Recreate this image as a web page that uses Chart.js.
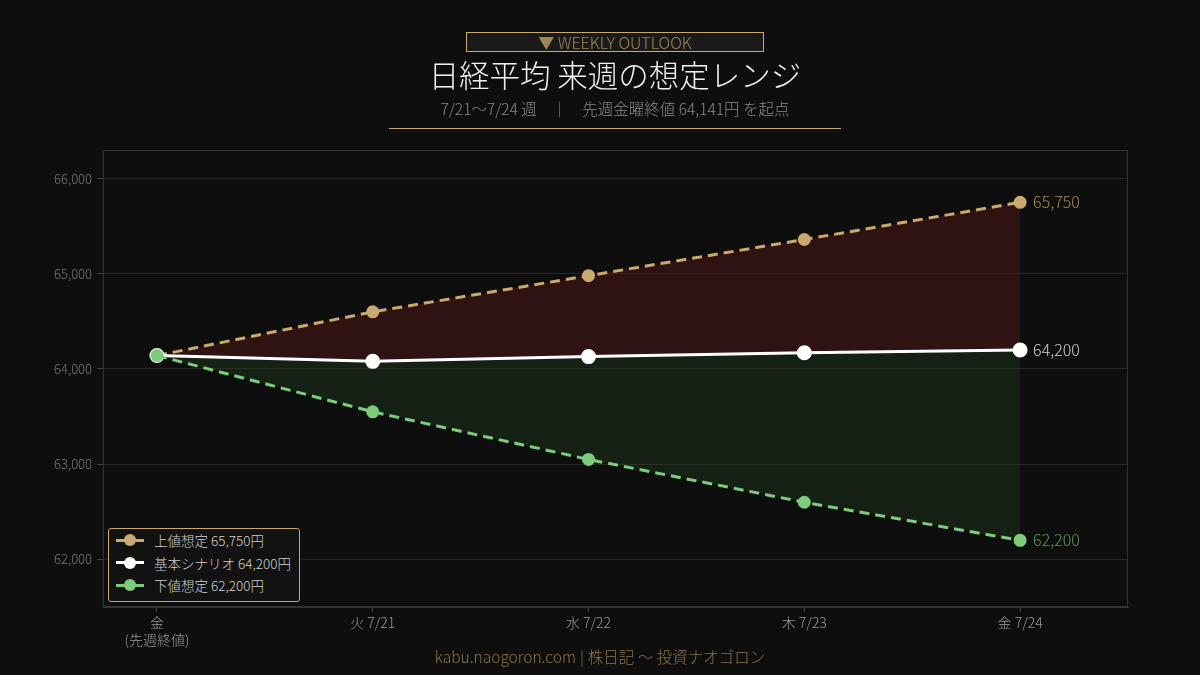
<!DOCTYPE html>
<html><head><meta charset="utf-8">
<script src="https://cdn.jsdelivr.net/npm/chart.js@4/dist/chart.umd.min.js"></script>
<style>
html,body{margin:0;padding:0;background:#0e0e0e;width:1200px;height:675px;overflow:hidden;font-family:"Noto Sans CJK JP Light","Noto Sans CJK JP","Noto Sans",sans-serif;}
#wrap{position:relative;width:1200px;height:675px;}
canvas{position:absolute;left:0;top:0;}
.badge{position:absolute;left:466px;top:32px;width:296px;height:18px;border:1px solid #c9a96e;background:#1a1a1a;color:#a08656;font-size:16px;line-height:18px;text-align:center;font-weight:300;}
.title{position:absolute;left:15px;width:1200px;top:54px;text-align:center;color:#f0f0f0;font-size:30.5px;font-weight:300;line-height:40px;}
.sub{position:absolute;left:15px;width:1200px;top:97px;text-align:center;color:#8a8a8a;font-size:15.5px;font-weight:300;line-height:22px;}
.sub .sep{margin:0 15px;}
.rule{position:absolute;left:389px;top:128px;width:452px;height:1px;background:#c9a96e;}
.foot{position:absolute;left:0;width:1200px;top:645px;text-align:center;color:#8a7446;font-size:15.5px;font-weight:300;line-height:22px;}
.foot .sep{margin:0 4px;}
.legend{position:absolute;left:108px;top:528px;width:192px;height:74px;border:1px solid #c9a96e;border-radius:3px;background:#121212;box-sizing:border-box;padding-top:0px;}
.li{height:22.5px;display:flex;align-items:center;color:#d0d0d0;font-size:13.5px;font-weight:300;}
.sw{position:relative;width:28px;height:3px;margin-left:7px;margin-right:10px;}
.sw i{position:absolute;left:8px;top:-4.5px;width:12px;height:12px;border-radius:50%;}
</style></head>
<body><div id="wrap">
<canvas id="c" width="1200" height="675"></canvas>
<div class="badge">▼ WEEKLY OUTLOOK</div>
<div class="title">日経平均 来週の想定レンジ</div>
<div class="sub">7/21〜7/24 週<span class="sep">｜</span>先週金曜終値 64,141円 を起点</div>
<div class="rule"></div>
<div class="legend" id="legend"></div>
<div class="foot">kabu.naogoron.com<span class="sep">|</span>株日記 〜 投資ナオゴロン</div>
</div>
<script>
const categories = [["金","(先週終値)"], "火 7/21", "水 7/22", "木 7/23", "金 7/24"];
const upperValues = [64141, 64600, 64980, 65360, 65750];
const baseValues  = [64141, 64080, 64130, 64170, 64200];
const lowerValues = [64141, 63550, 63050, 62600, 62200];
const seriesNames = ["上値想定 65,750円", "基本シナリオ 64,200円", "下値想定 62,200円"];
const endLabels = ["65,750", "64,200", "62,200"];
const yTicks = [62000, 63000, 64000, 65000, 66000];

const GOLD = "#c9a96e", WHITE = "#ffffff", GREEN = "#7ccc7c";
const endColors = ["#a88a55", "#d0d0d0", "#5f9a5f"];
const toPts = arr => arr.map((v, i) => ({x: i, y: v}));

const legend = document.getElementById('legend');
[GOLD, WHITE, GREEN].forEach((c, i) => {
  const d = document.createElement('div'); d.className = 'li';
  d.innerHTML = `<span class="sw" style="background:${c}"><i style="background:${c}"></i></span>${seriesNames[i]}`;
  legend.appendChild(d);
});

const framePlugin = {
  id: 'frame',
  afterDraw(chart) {
    const {ctx, chartArea: a} = chart;
    ctx.save();
    ctx.strokeStyle = '#333'; ctx.lineWidth = 1;
    ctx.strokeRect(a.left + 0.5, a.top + 0.5, a.right - a.left - 1, a.bottom - a.top - 1);
    ctx.font = '300 16px "Noto Sans CJK JP Light", "Noto Sans CJK JP"';
    ctx.textBaseline = 'middle'; ctx.textAlign = 'left';
    chart.data.datasets.forEach((ds, i) => {
      const meta = chart.getDatasetMeta(i);
      const p = meta.data[meta.data.length - 1];
      ctx.fillStyle = endColors[i];
      ctx.fillText(endLabels[i], p.x + 13, p.y);
    });
    ctx.restore();
  }
};

const tickFont = fs => ({size: fs, family: '"Noto Sans CJK JP Light", "Noto Sans CJK JP"', weight: 300});

new Chart(document.getElementById('c'), {
  type: 'line',
  data: {
    datasets: [
      {label: seriesNames[0], data: toPts(upperValues), borderColor: GOLD, backgroundColor: 'rgba(110,25,25,0.35)', order: 2,
       pointBackgroundColor: GOLD, pointBorderColor: GOLD, borderDash: [10, 6], borderWidth: 3, pointRadius: 5, fill: '+1', tension: 0},
      {label: seriesNames[1], data: toPts(baseValues), borderColor: WHITE, backgroundColor: WHITE, order: 1,
       pointBackgroundColor: WHITE, pointBorderColor: WHITE, borderWidth: 3, pointRadius: 6, fill: false, tension: 0},
      {label: seriesNames[2], data: toPts(lowerValues), borderColor: GREEN, backgroundColor: 'rgba(40,80,40,0.3)', order: 0,
       pointBackgroundColor: GREEN, pointBorderColor: GREEN, borderDash: [10, 6], borderWidth: 3, pointRadius: 5, fill: '-1', tension: 0}
    ]
  },
  options: {
    responsive: false, animation: false,
    layout: {padding: {top: 150, right: 72, left: 0, bottom: 0}},
    plugins: {legend: {display: false}, tooltip: {enabled: false}, filler: {drawTime: 'beforeDatasetsDraw'}},
    scales: {
      x: {
        type: 'linear', min: -0.25, max: 4.5,
        afterBuildTicks: s => { s.ticks = categories.map((c, i) => ({value: i})); },
        afterFit: s => { s.height = 68; },
        ticks: {color: '#9a9a9a', font: tickFont(14), padding: 2,
                callback: (v) => categories[v], maxRotation: 0, autoSkip: false},
        grid: {drawOnChartArea: false, tickLength: 5, color: '#444', tickColor: '#444'},
        border: {color: '#333'}
      },
      y: {
        min: 61500, max: 66300,
        afterBuildTicks: s => { s.ticks = yTicks.map(v => ({value: v})); },
        afterFit: s => { s.width = 103; },
        ticks: {color: '#777', font: tickFont(13), padding: 5,
                callback: v => v.toLocaleString('en-US')},
        grid: {color: '#262626', tickLength: 6, tickColor: '#444'},
        border: {color: '#333'}
      }
    }
  },
  plugins: [framePlugin]
});
</script>
</body></html>
